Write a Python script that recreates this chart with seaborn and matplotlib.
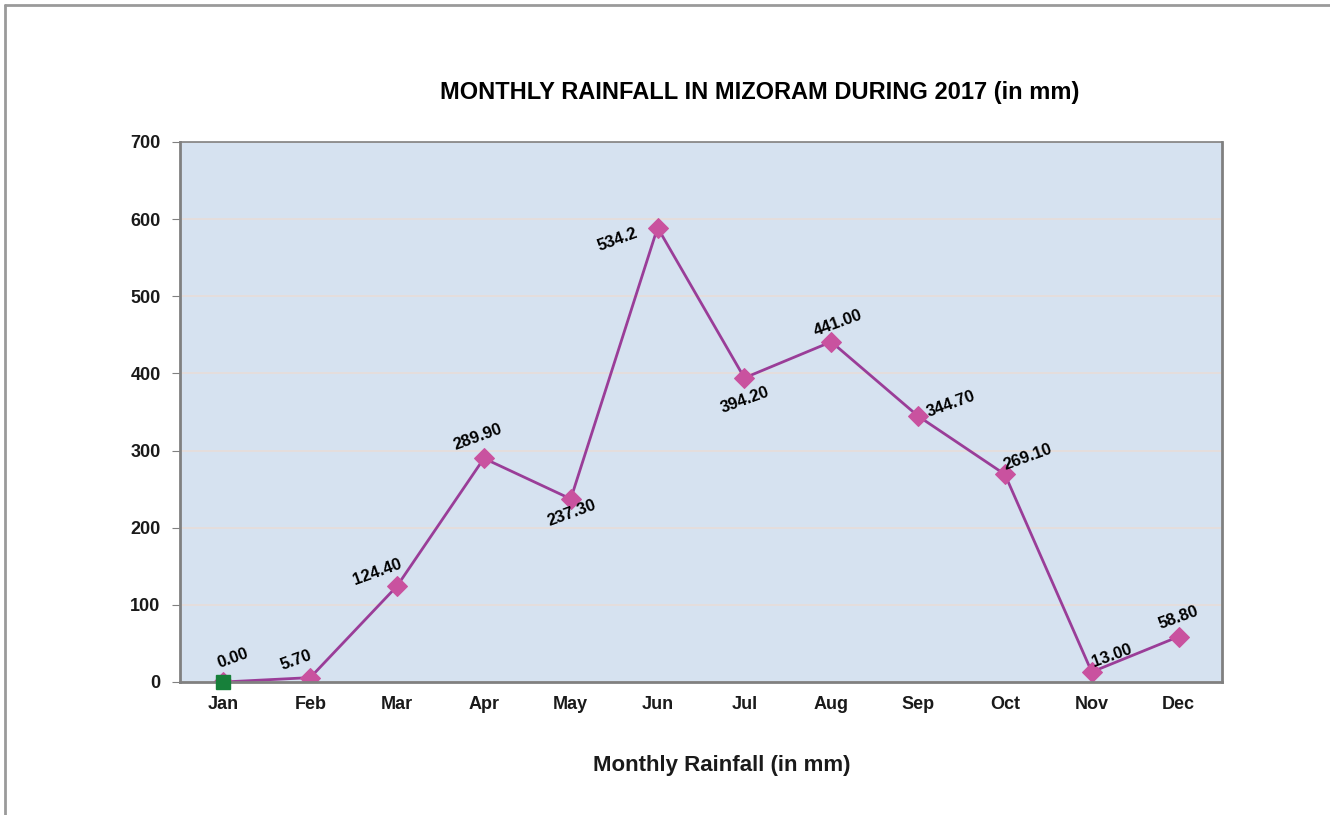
import numpy as np
import pandas as pd
import matplotlib.pyplot as plt
from matplotlib.lines import Line2D
from matplotlib.ticker import FixedLocator
import seaborn as sns

# data (Jun point sits near 589 though it is labelled 534.2)
months = ['Jan', 'Feb', 'Mar', 'Apr', 'May', 'Jun', 'Jul', 'Aug', 'Sep', 'Oct', 'Nov', 'Dec']
rainfall = [0.0, 5.7, 124.4, 289.9, 237.3, 589.0, 394.2, 441.0, 344.7, 269.1, 13.0, 58.8]
labels = ['0.00', '5.70', '124.40', '289.90', '237.30', '534.2', '394.20', '441.00',
          '344.70', '269.10', '13.00', '58.80']
# label offsets in pixels (dx, dy)
offsets = [(9, 24), (-14, 17), (-20, 14), (-6, 21), (1, -14), (-40, -12),
           (1, -22), (7, 19), (33, 12), (23, 17), (20, 16), (0, 19)]

df = pd.DataFrame({'month': months, 'rain': rainfall})

sns.set_style('white')
plt.rcParams['font.family'] = ['Liberation Sans', 'DejaVu Sans']

fig = plt.figure(figsize=(13.3, 8.15), dpi=100)
ax = fig.add_axes([180/1330, 1-682/815, (1222-180)/1330, (682-142)/815])
ax.set_facecolor('#D6E2F0')

sns.lineplot(data=df, x='month', y='rain', ax=ax, color='#9A3D98', lw=2,
             marker='D', markersize=10, markerfacecolor='#C9529F', markeredgecolor='#C9529F',
             sort=False)
# first point drawn as a green square
ax.plot(0, rainfall[0], marker='s', markersize=10, color='#17803A', zorder=5, clip_on=False)

for i, (lab, (dx, dy)) in enumerate(zip(labels, offsets)):
    ax.annotate(lab, (i, rainfall[i]), xytext=(dx, dy), textcoords='offset pixels',
                ha='center', va='center', rotation=20, fontsize=12, fontweight='bold',
                color='black')

ax.set_xlim(-0.5, 11.5)
ax.set_ylim(0, 700)
ax.set_yticks(np.arange(0, 701, 100))
ax.yaxis.grid(True, color='#E8DCD8', lw=1.2)
ax.set_axisbelow(True)
ax.xaxis.set_minor_locator(FixedLocator(np.arange(-0.5, 12, 1)))
ax.tick_params(axis='x', which='major', length=0, pad=10)
ax.tick_params(axis='x', which='minor', length=6, color='#808080', direction='out')
ax.tick_params(axis='y', length=6, color='#808080', direction='out', pad=8, left=True)
for lab in ax.get_xticklabels() + ax.get_yticklabels():
    lab.set_fontsize(13)
    lab.set_fontweight('bold')
    lab.set_color('#1a1a1a')
for s in ax.spines.values():
    s.set_color('#808080')
    s.set_linewidth(2)
ax.spines['top'].set_linewidth(1.2)
ax.set_xlabel('')
ax.set_ylabel('')

fig.text(760/1330, 1-93/815, 'MONTHLY RAINFALL IN MIZORAM DURING 2017 (in mm)',
         ha='center', va='center', fontsize=17, fontweight='bold', color='black')
fig.text(722/1330, 1-765/815, 'Monthly Rainfall (in mm)',
         ha='center', va='center', fontsize=16, fontweight='bold', color='#1a1a1a')

# outer frame (left and top edges only)
fig.add_artist(Line2D([5/1330, 5/1330], [0, 1-5/815], transform=fig.transFigure, color='#9A9A9A', lw=2))
fig.add_artist(Line2D([5/1330, 1], [1-5/815, 1-5/815], transform=fig.transFigure, color='#9A9A9A', lw=2))

fig.savefig('out.png', dpi=100)
